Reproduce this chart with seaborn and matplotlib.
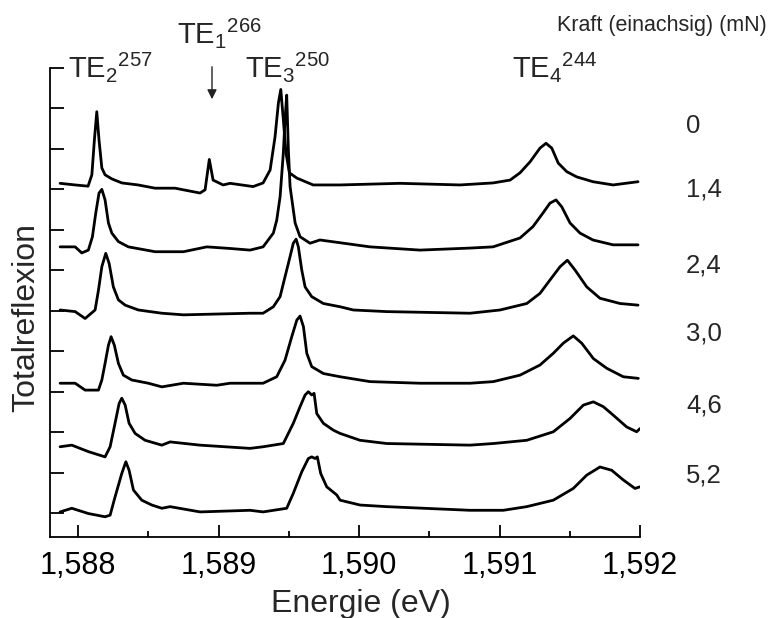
import numpy as np
import seaborn as sns
import matplotlib
matplotlib.use('Agg')
import matplotlib.pyplot as plt

# Spektren, von oben (0 mN) nach unten (5,2 mN)

energie_0 = [1.587872, 1.587979, 1.588071, 1.588098, 1.588116, 1.588133, 1.588149, 1.588169, 1.588192, 1.588240,
             1.588311, 1.588427, 1.588548, 1.588690, 1.588868, 1.588904, 1.588934, 1.588961, 1.589032, 1.589082,
             1.589246, 1.589317, 1.589367, 1.589402, 1.589426, 1.589443, 1.589461, 1.589480, 1.589504, 1.589557,
             1.589673, 1.589865, 1.590292, 1.590719, 1.590954, 1.591075, 1.591146, 1.591217, 1.591288, 1.591331,
             1.591372, 1.591418, 1.591478, 1.591549, 1.591665, 1.591808, 1.591986]
reflex_0 = [8.15, 8.11, 8.08, 8.36, 9.22, 9.92, 9.22, 8.53, 8.36, 8.26,
            8.16, 8.11, 8.03, 8.03, 7.91, 7.99, 8.74, 8.23, 8.11, 8.15,
            8.07, 8.16, 8.48, 9.30, 10.14, 10.47, 9.72, 8.90, 8.41, 8.28,
            8.11, 8.11, 8.15, 8.11, 8.16, 8.23, 8.41, 8.68, 9.02, 9.14,
            9.02, 8.65, 8.44, 8.31, 8.19, 8.11, 8.19]

energie_1 = [1.587872, 1.587979, 1.588026, 1.588073, 1.588102, 1.588126, 1.588149, 1.588169, 1.588192, 1.588216,
             1.588240, 1.588287, 1.588358, 1.588548, 1.588750, 1.588916, 1.589082, 1.589224, 1.589317, 1.589390,
             1.589414, 1.589438, 1.589461, 1.589473, 1.589485, 1.589497, 1.589509, 1.589545, 1.589580, 1.589651,
             1.589722, 1.590078, 1.590434, 1.590790, 1.590954, 1.591146, 1.591238, 1.591310, 1.591359, 1.591402,
             1.591443, 1.591502, 1.591573, 1.591665, 1.591808, 1.591986]
reflex_1 = [6.58, 6.58, 6.43, 6.50, 6.83, 7.42, 7.91, 8.00, 7.74, 7.17,
            6.92, 6.71, 6.58, 6.46, 6.46, 6.58, 6.54, 6.50, 6.58, 6.92,
            7.24, 7.82, 8.90, 9.72, 10.33, 8.97, 8.07, 7.17, 6.83, 6.67,
            6.75, 6.58, 6.50, 6.55, 6.58, 6.80, 7.08, 7.42, 7.66, 7.74,
            7.57, 7.17, 6.92, 6.75, 6.63, 6.63]

energie_2 = [1.587872, 1.587979, 1.588050, 1.588121, 1.588145, 1.588169, 1.588197, 1.588221, 1.588251, 1.588287,
             1.588335, 1.588429, 1.588596, 1.588750, 1.589224, 1.589317, 1.589390, 1.589438, 1.589473, 1.589509,
             1.589532, 1.589552, 1.589568, 1.589592, 1.589616, 1.589663, 1.589746, 1.589865, 1.589959, 1.590197,
             1.590790, 1.591004, 1.591194, 1.591288, 1.591359, 1.591431, 1.591483, 1.591537, 1.591621, 1.591715,
             1.591858, 1.591986]
reflex_2 = [5.02, 4.98, 4.81, 5.02, 5.51, 6.09, 6.42, 6.17, 5.59, 5.27,
            5.14, 5.02, 4.94, 4.90, 4.94, 4.94, 5.10, 5.35, 5.84, 6.34,
            6.67, 6.77, 6.58, 6.01, 5.59, 5.35, 5.18, 5.10, 5.02, 4.98,
            4.94, 5.02, 5.18, 5.43, 5.76, 6.09, 6.25, 6.01, 5.59, 5.31,
            5.18, 5.14]

energie_3 = [1.587872, 1.587979, 1.588050, 1.588145, 1.588169, 1.588192, 1.588216, 1.588235, 1.588258, 1.588287,
             1.588322, 1.588382, 1.588500, 1.588596, 1.588750, 1.588987, 1.589082, 1.589317, 1.589414, 1.589473,
             1.589521, 1.589557, 1.589580, 1.589604, 1.589628, 1.589663, 1.589746, 1.589865, 1.590078, 1.590434,
             1.590790, 1.590956, 1.591146, 1.591288, 1.591383, 1.591454, 1.591525, 1.591585, 1.591668, 1.591763,
             1.591881, 1.591988]
reflex_3 = [3.21, 3.21, 3.04, 3.04, 3.29, 3.70, 4.15, 4.36, 4.15, 3.70,
            3.41, 3.29, 3.21, 3.12, 3.21, 3.16, 3.21, 3.21, 3.37, 3.78,
            4.36, 4.77, 4.87, 4.61, 3.95, 3.62, 3.45, 3.37, 3.25, 3.21,
            3.21, 3.25, 3.41, 3.66, 3.95, 4.20, 4.38, 4.20, 3.82, 3.58,
            3.37, 3.33]

energie_4 = [1.587872, 1.587955, 1.588073, 1.588192, 1.588228, 1.588263, 1.588292, 1.588311, 1.588335, 1.588363,
             1.588406, 1.588477, 1.588596, 1.588655, 1.588868, 1.589224, 1.589317, 1.589461, 1.589532, 1.589580,
             1.589616, 1.589639, 1.589663, 1.589680, 1.589699, 1.589746, 1.589817, 1.589865, 1.590007, 1.590197,
             1.590790, 1.590956, 1.591194, 1.591383, 1.591502, 1.591597, 1.591668, 1.591739, 1.591810, 1.591905,
             1.591976, 1.592000]
reflex_4 = [1.64, 1.68, 1.52, 1.39, 1.64, 2.22, 2.71, 2.84, 2.67, 2.22,
            1.97, 1.80, 1.68, 1.76, 1.68, 1.60, 1.64, 1.72, 2.22, 2.63,
            2.92, 3.00, 2.92, 2.96, 2.46, 2.22, 2.05, 1.97, 1.80, 1.72,
            1.68, 1.72, 1.80, 2.01, 2.34, 2.67, 2.75, 2.63, 2.42, 2.13,
            2.01, 2.09]

energie_5 = [1.587872, 1.587955, 1.588073, 1.588192, 1.588228, 1.588263, 1.588311, 1.588340, 1.588363, 1.588394,
             1.588453, 1.588525, 1.588596, 1.588655, 1.588868, 1.589224, 1.589317, 1.589485, 1.589532, 1.589592,
             1.589639, 1.589663, 1.589687, 1.589703, 1.589727, 1.589770, 1.589841, 1.589865, 1.590007, 1.590197,
             1.590790, 1.591027, 1.591194, 1.591383, 1.591525, 1.591621, 1.591715, 1.591798, 1.591881, 1.591964,
             1.592000]
reflex_5 = [0.03, 0.12, -0.01, -0.09, -0.05, 0.40, 0.98, 1.27, 1.06, 0.57,
            0.32, 0.20, 0.12, 0.16, 0.03, 0.07, 0.03, 0.12, 0.49, 1.02,
            1.35, 1.39, 1.35, 1.39, 0.98, 0.65, 0.45, 0.32, 0.20, 0.16,
            0.07, 0.07, 0.16, 0.32, 0.61, 0.94, 1.14, 1.06, 0.82, 0.61,
            0.65]

kraft_labels = ['0', '1,4', '2,4', '3,0', '4,6', '5,2']
x_ticks = [1.588, 1.589, 1.590, 1.591, 1.592]
x_tick_labels = ['1,588', '1,589', '1,590', '1,591', '1,592']
moden = [r'TE$_2{}^{257}$', r'TE$_1{}^{266}$', r'TE$_3{}^{250}$', r'TE$_4{}^{244}$']

sns.set_style('ticks')
plt.rcParams['font.family'] = ['Liberation Sans', 'DejaVu Sans']
plt.rcParams['mathtext.fontset'] = 'custom'
plt.rcParams['mathtext.rm'] = 'Liberation Sans'
plt.rcParams['mathtext.it'] = 'Liberation Sans:italic'

fig = plt.figure(figsize=(7.68, 6.18), dpi=100)
ax = fig.add_axes([50/768, 1-537/618, 590/768, 469/618])

spektren = [(energie_0, reflex_0), (energie_1, reflex_1), (energie_2, reflex_2),
            (energie_3, reflex_3), (energie_4, reflex_4), (energie_5, reflex_5)]
for e, r in spektren:
    sns.lineplot(x=e, y=r, color='black', lw=2.0, ax=ax, estimator=None, sort=False)

ax.set_xlim(1.5878, 1.592)
ax.set_ylim(-0.59, 11.0)
ax.set_xticks(x_ticks)
ax.set_xticklabels(x_tick_labels)
ax.set_xticks([1.5885, 1.5895, 1.5905, 1.5915], minor=True)
ax.set_yticks(range(12))
ax.set_yticklabels([])
ax.tick_params(axis='both', which='major', direction='in', length=9, width=1.3, colors='black',
               labelsize=22, pad=10)
ax.tick_params(axis='x', which='minor', direction='in', length=4.5, width=1.3, colors='black')
ax.tick_params(axis='y', which='major', length=10)
for s in ['top', 'right']:
    ax.spines[s].set_visible(False)
for s in ['left', 'bottom']:
    ax.spines[s].set_linewidth(1.3)
    ax.spines[s].set_color('black')
ax.set_xlabel('')
ax.set_ylabel('')

fig.text(361/768, 1-612/618, 'Energie (eV)', fontsize=23, ha='center', va='baseline')
fig.text(26/768, 1-317/618, 'Totalreflexion', fontsize=23, rotation=90, ha='center', va='center')

# Modenbezeichnungen
mode_pos = [(68, 77), (177, 43), (245, 77), (512, 77)]
for txt, (px, py) in zip(moden, mode_pos):
    fig.text(px/768, 1-py/618, txt, fontsize=21, ha='left', va='baseline')

ax.annotate('', xy=(212/768, 1-102/618), xytext=(212/768, 1-64/618),
            xycoords='figure fraction', textcoords='figure fraction',
            arrowprops=dict(arrowstyle='-|>', color='#222222', lw=1.0, mutation_scale=14))

fig.text(767/768, 1-31/618, 'Kraft (einachsig) (mN)', fontsize=15.5, ha='right', va='baseline')
label_base = [133, 197, 272, 340, 412, 483]
for lab, py in zip(kraft_labels, label_base):
    fig.text(686/768, 1-py/618, lab, fontsize=18.5, ha='left', va='baseline')

fig.savefig('out.png', dpi=100)
